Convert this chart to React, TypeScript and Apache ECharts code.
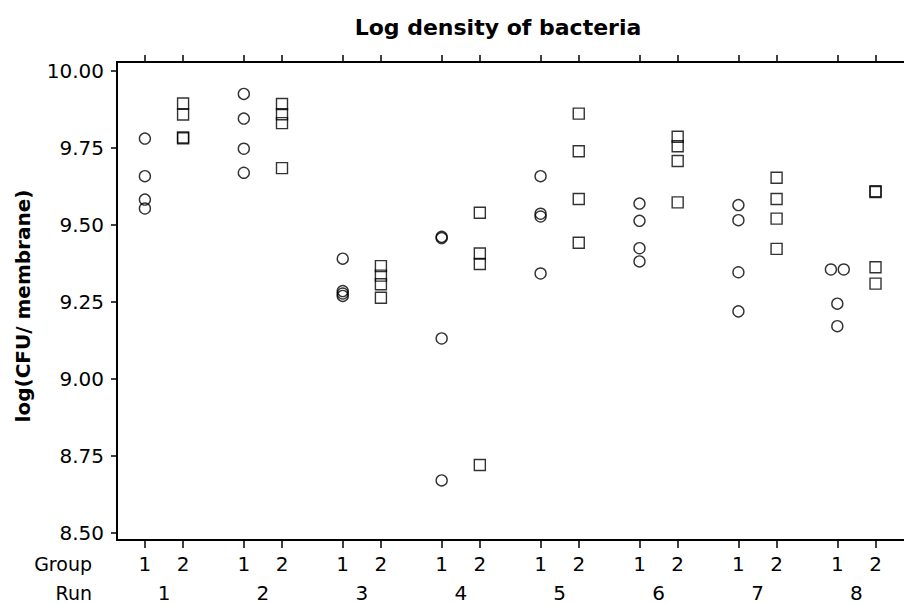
import React, { useEffect, useRef } from "react";
import * as echarts from "echarts";

// ---- Data ----
const runs = ["1", "2", "3", "4", "5", "6", "7", "8"];
const groups = ["1", "2"];
const yTicks = [8.5, 8.75, 9.0, 9.25, 9.5, 9.75, 10.0];

// log(CFU/membrane), Group 1, per run
const group1Values: number[][] = [
  [9.779, 9.657, 9.581, 9.552],
  [9.924, 9.844, 9.746, 9.668],
  [9.389, 9.284, 9.276, 9.268],
  [9.46, 9.456, 9.13, 8.669],
  [9.657, 9.535, 9.526, 9.341],
  [9.568, 9.512, 9.423, 9.38],
  [9.563, 9.514, 9.345, 9.218],
  [9.354, 9.354, 9.243, 9.17],
];

// log(CFU/membrane), Group 2, per run
const group2Values: number[][] = [
  [9.893, 9.857, 9.783, 9.78],
  [9.891, 9.858, 9.829, 9.683],
  [9.365, 9.334, 9.306, 9.262],
  [9.538, 9.406, 9.372, 8.719],
  [9.86, 9.738, 9.583, 9.441],
  [9.785, 9.754, 9.706, 9.572],
  [9.652, 9.583, 9.519, 9.421],
  [9.608, 9.605, 9.361, 9.308],
];

const GROUP_OFFSET = 0.193;
const TIE_DODGE = 0.065;
const FONT = "'DejaVu Sans', Verdana, sans-serif";

function buildPoints(values: number[][], g: number) {
  const pts: number[][] = [];
  values.forEach((vals, i) => {
    const base = i + 1 + (g === 1 ? -GROUP_OFFSET : GROUP_OFFSET);
    const counts = new Map<number, number>();
    vals.forEach((v) => counts.set(v, (counts.get(v) || 0) + 1));
    const seen = new Map<number, number>();
    vals.forEach((v) => {
      const n = counts.get(v) || 1;
      const k = seen.get(v) || 0;
      seen.set(v, k + 1);
      const dx = n > 1 ? (k - (n - 1) / 2) * 2 * TIE_DODGE : 0;
      pts.push([base + dx, v]);
    });
  });
  return pts;
}

const groupTickValues = runs.flatMap((_, i) => [i + 1 - GROUP_OFFSET, i + 1 + GROUP_OFFSET]);
const runTickValues = runs.map((_, i) => i + 1);

export default function App() {
  const ref = useRef<HTMLDivElement>(null);
  useEffect(() => {
    if (!ref.current) return;
    const chart = echarts.init(ref.current, undefined, { renderer: "svg" });
    const X_MIN = 0.525;
    const X_MAX = 8.481;
    const line = { color: "#000", width: 2 };
    const tickStyle = { color: "#000", width: 1.5 };
    const labelBase = { color: "#000", fontFamily: FONT, fontSize: 20 };
    chart.setOption({
      animation: false,
      backgroundColor: "#fff",
      grid: { left: 117, right: -3, top: 62, bottom: 64, containLabel: false },
      graphic: [
        {
          type: "text",
          x: 498,
          y: 27,
          style: {
            text: "Log density of bacteria",
            fontFamily: FONT,
            fontWeight: "bold",
            fontSize: 22,
            fill: "#000",
            textAlign: "center",
            textVerticalAlign: "middle",
          },
        },
        {
          type: "text",
          x: 23,
          y: 306,
          rotation: Math.PI / 2,
          style: {
            text: "log(CFU/ membrane)",
            fontFamily: FONT,
            fontWeight: "bold",
            fontSize: 20,
            fill: "#000",
            textAlign: "center",
            textVerticalAlign: "middle",
          },
        },
        {
          type: "text",
          x: 92,
          y: 564,
          style: {
            text: "Group",
            fontFamily: FONT,
            fontSize: 19,
            fill: "#000",
            textAlign: "right",
            textVerticalAlign: "middle",
          },
        },
        {
          type: "text",
          x: 92,
          y: 593,
          style: {
            text: "Run",
            fontFamily: FONT,
            fontSize: 19,
            fill: "#000",
            textAlign: "right",
            textVerticalAlign: "middle",
          },
        },
      ],
      xAxis: [
        {
          type: "value",
          min: X_MIN,
          max: X_MAX,
          position: "bottom",
          axisLine: { show: true, lineStyle: line },
          axisTick: { show: true, customValues: groupTickValues, length: 8, lineStyle: tickStyle },
          axisLabel: {
            show: true,
            customValues: groupTickValues,
            margin: 14,
            ...labelBase,
            formatter: (v: number) => (v < Math.round(v) ? groups[0] : groups[1]),
          },
          splitLine: { show: false },
        },
        {
          type: "value",
          min: X_MIN,
          max: X_MAX,
          position: "bottom",
          axisLine: { show: false },
          axisTick: { show: false },
          axisLabel: {
            show: true,
            customValues: runTickValues,
            margin: 43,
            ...labelBase,
            formatter: (v: number) => runs[Math.round(v) - 1],
          },
          splitLine: { show: false },
        },
        {
          type: "value",
          min: X_MIN,
          max: X_MAX,
          position: "top",
          axisLine: { show: true, lineStyle: line },
          axisTick: { show: true, customValues: groupTickValues, length: 7, lineStyle: tickStyle },
          axisLabel: { show: false },
          splitLine: { show: false },
        },
      ],
      yAxis: {
        type: "value",
        min: 8.4757,
        max: 10.0276,
        axisLine: { show: true, lineStyle: line },
        axisTick: { show: true, customValues: yTicks, length: 6, lineStyle: tickStyle },
        axisLabel: {
          show: true,
          customValues: yTicks,
          margin: 13,
          ...labelBase,
          formatter: (v: number) => v.toFixed(2),
        },
        splitLine: { show: false },
      },
      series: [
        {
          type: "scatter",
          name: "Group 1",
          xAxisIndex: 0,
          symbol: "circle",
          symbolSize: 11,
          itemStyle: { color: "rgba(0,0,0,0)", borderColor: "#000", borderWidth: 1.4 },
          data: buildPoints(group1Values, 1),
        },
        {
          type: "scatter",
          name: "Group 2",
          xAxisIndex: 0,
          symbol: "rect",
          symbolSize: 11,
          itemStyle: { color: "rgba(0,0,0,0)", borderColor: "#000", borderWidth: 1.4 },
          data: buildPoints(group2Values, 2),
        },
      ],
    });
    return () => chart.dispose();
  }, []);
  return (
    <div
      ref={ref}
      style={{ position: "fixed", left: 0, top: 0, width: 904, height: 604, background: "#fff" }}
    />
  );
}
